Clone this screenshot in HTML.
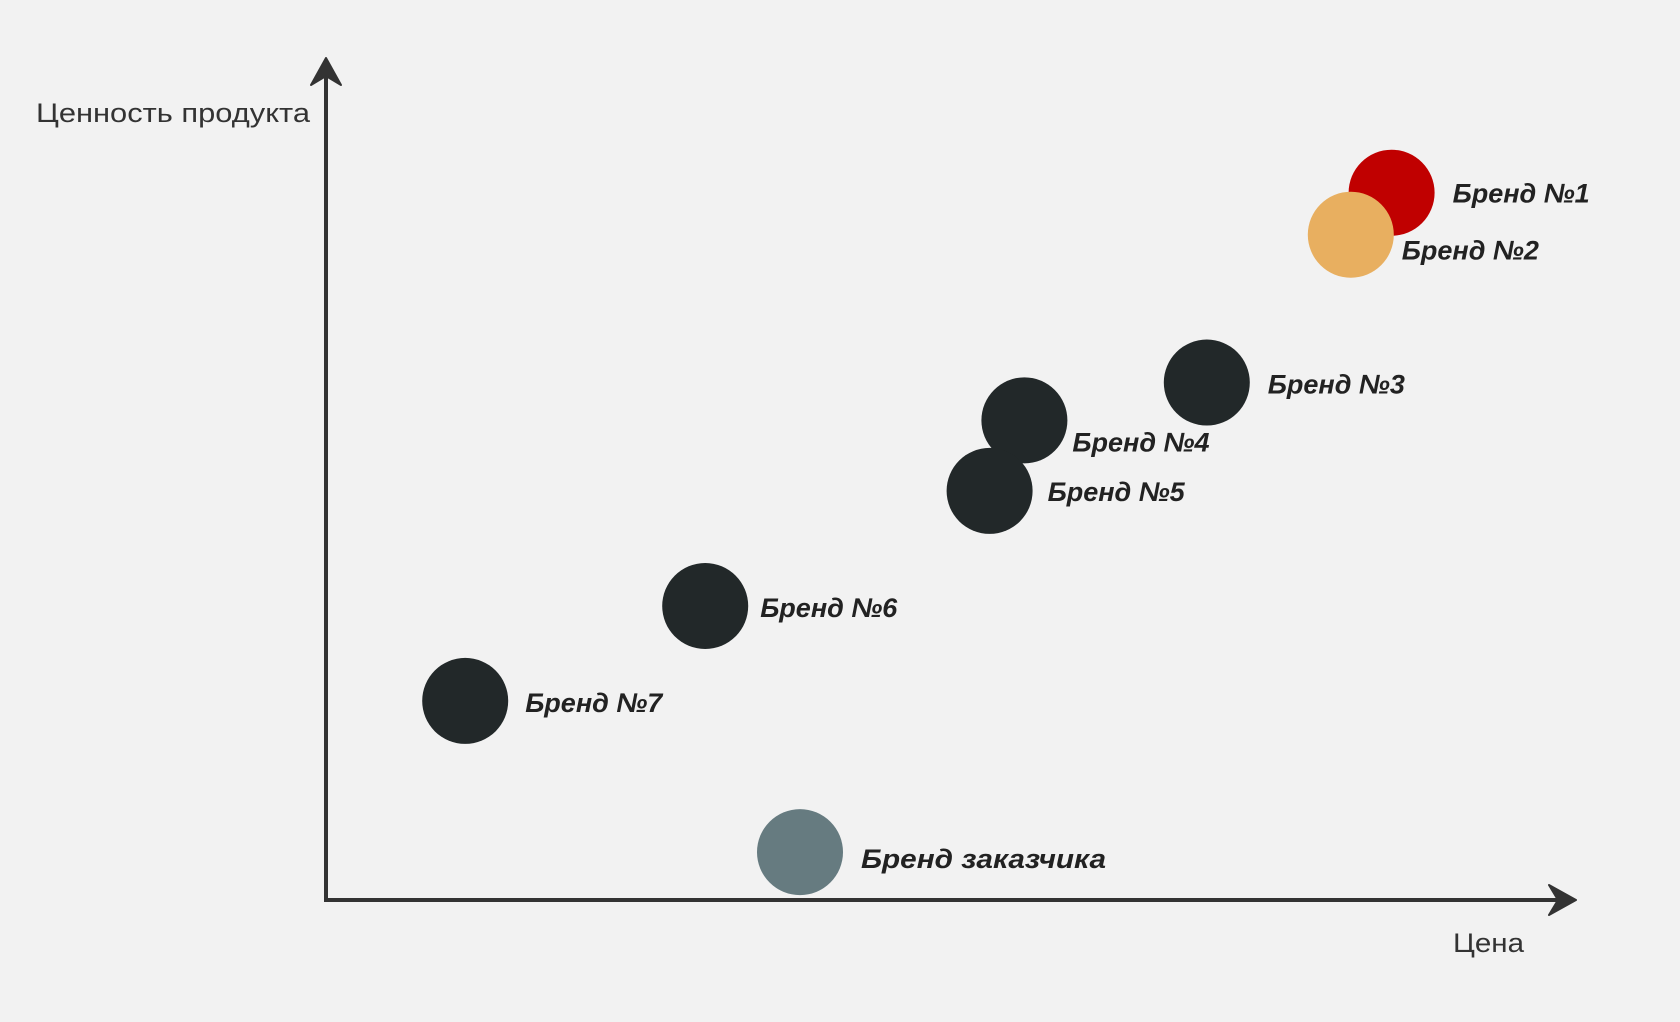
<!DOCTYPE html>
<html><head><meta charset="utf-8"><style>
html,body{margin:0;padding:0;background:#f2f2f2;}
svg{display:block;}
</style></head><body>
<svg id="chart" width="1680" height="1022" viewBox="0 0 1680 1022" xmlns="http://www.w3.org/2000/svg">
<rect width="1680" height="1022" fill="#f2f2f2"/>
<g id="axes">
<line x1="326" y1="900" x2="326" y2="70" stroke="#333" stroke-width="4"/>
<polygon points="326,58 341,85 326,76 311,85" fill="#333" stroke="#333" stroke-width="2" stroke-linejoin="round"/>
<line x1="324" y1="900" x2="1565" y2="900" stroke="#333" stroke-width="4"/>
<polygon points="1576,900 1549,885 1558,900 1549,915" fill="#333" stroke="#333" stroke-width="2" stroke-linejoin="round"/>
<text x="36" y="122" font-family="Liberation Sans, sans-serif" font-size="27" fill="#333" textLength="274" lengthAdjust="spacingAndGlyphs">Ценность продукта</text>
<text x="1453" y="952" font-family="Liberation Sans, sans-serif" font-size="27" fill="#333" textLength="71" lengthAdjust="spacingAndGlyphs">Цена</text>
</g>
<g id="marks"></g>
</svg>
<script>
const brands = ["Бренд №1","Бренд №2","Бренд №3","Бренд №4","Бренд №5","Бренд №6","Бренд №7","Бренд заказчика"];
const priceValues = [88.8, 85.4, 73.4, 58.2, 55.3, 31.6, 11.6, 39.5];
const valueValues = [84.2, 79.2, 61.6, 57.1, 48.7, 35.0, 23.7, 5.7];
const colors = ["#c00000","#e8af60","#222829","#222829","#222829","#222829","#222829","#667b80"];
const labelDx = [61,51,61,48,58,55,60,61];
const labelDy = [0,15,1,21,0,1,1,6];
function xScale(v){return 326 + v*12;}
function yScale(v){return 900 - v*8.4;}
const ns="http://www.w3.org/2000/svg";
const g=document.getElementById('marks');
brands.forEach((b,i)=>{
  const cx=xScale(priceValues[i]), cy=yScale(valueValues[i]);
  const c=document.createElementNS(ns,'circle');
  c.setAttribute('cx',cx);c.setAttribute('cy',cy);c.setAttribute('r',43);
  c.setAttribute('fill',colors[i]);
  
  
  g.appendChild(c);
});
brands.forEach((b,i)=>{
  const cx=xScale(priceValues[i]), cy=yScale(valueValues[i]);
  const t=document.createElementNS(ns,'text');
  t.setAttribute('x',cx+labelDx[i]);t.setAttribute('y',cy+labelDy[i]+10);
  t.setAttribute('font-family','Liberation Sans, sans-serif');
  t.setAttribute('font-size','27');t.setAttribute('font-weight','bold');t.setAttribute('font-style','italic');
  t.setAttribute('fill','#222');
  if(i===7){t.setAttribute('textLength','245');t.setAttribute('lengthAdjust','spacingAndGlyphs');}
  t.textContent=b;
  
  
  g.appendChild(t);
});
</script>
</body></html>
